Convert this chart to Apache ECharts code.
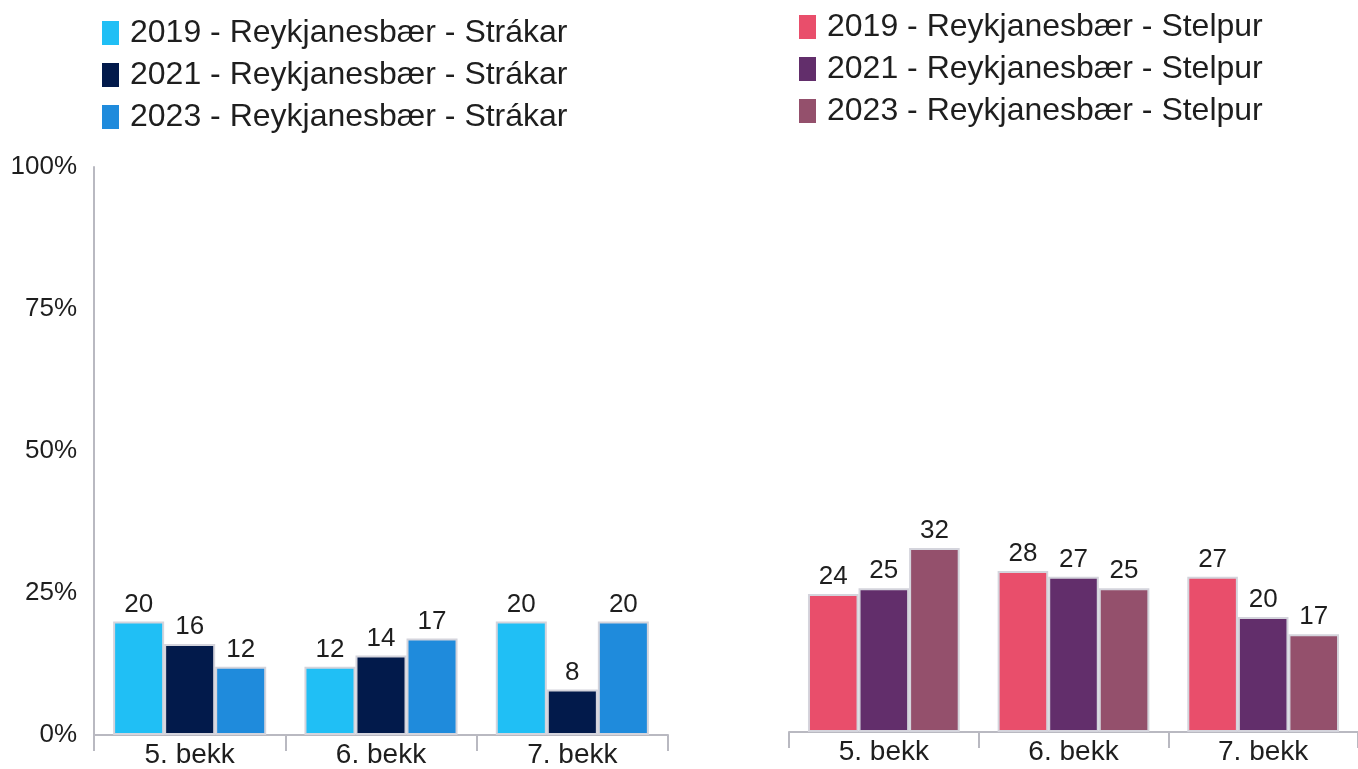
<!DOCTYPE html>
<html>
<head>
<meta charset="utf-8">
<script src="https://cdn.jsdelivr.net/npm/echarts@6/dist/echarts.min.js"></script>
<style>
html,body{margin:0;padding:0;background:#fff;}
#c{width:1358px;height:769px;}
</style>
</head>
<body>
<div id="c"></div>
<script>
const categories = ['5. bekk', '6. bekk', '7. bekk'];
const yTicks = ['0%', '25%', '50%', '75%', '100%'];
const boysNames = ['2019 - Reykjanesbær - Strákar', '2021 - Reykjanesbær - Strákar', '2023 - Reykjanesbær - Strákar'];
const girlsNames = ['2019 - Reykjanesbær - Stelpur', '2021 - Reykjanesbær - Stelpur', '2023 - Reykjanesbær - Stelpur'];
const boys2019 = [20, 12, 20];
const boys2021 = [16, 14, 8];
const boys2023 = [12, 17, 20];
const girls2019 = [24, 28, 27];
const girls2021 = [25, 27, 20];
const girls2023 = [32, 25, 17];
const boysColors = ['#20bff5', '#021a4b', '#1f8bdc'];
const girlsColors = ['#e94e6b', '#622e6b', '#94506c'];

const FONT = 'Liberation Sans, Arial, sans-serif';
const axisGray = '#b9b9c1';

function mkSeries(name, data, color, idx) {
  return {
    name: name, type: 'bar', data: data,
    xAxisIndex: idx, yAxisIndex: idx,
    barGap: '0%', barCategoryGap: '20%',
    itemStyle: { color: color, borderColor: '#d4d4dc', borderWidth: 2 },
    label: { show: true, position: 'top', distance: 4, color: '#1e1e1e', fontSize: 26, fontFamily: FONT },
    emphasis: { disabled: true }
  };
}

const legendText = { fontSize: 32, lineHeight: 36, color: '#1e1e1e', fontFamily: FONT, padding: [0, 0, 0, 6] };

const chart = echarts.init(document.getElementById('c'), null, { renderer: 'canvas' });
chart.setOption({
  animation: false,
  backgroundColor: '#ffffff',
  textStyle: { fontFamily: FONT },
  legend: [
    {
      data: boysNames, orient: 'vertical', left: 97, top: 10,
      itemWidth: 17, itemHeight: 24, itemGap: 6, icon: 'rect',
      itemStyle: { borderWidth: 0 },
      textStyle: legendText
    },
    {
      data: girlsNames, orient: 'vertical', left: 794, top: 4,
      itemWidth: 17, itemHeight: 24, itemGap: 6, icon: 'rect',
      itemStyle: { borderWidth: 0 },
      textStyle: legendText
    }
  ],
  grid: [
    { left: 94, top: 167, width: 574, bottom: 31 },
    { left: 789, top: 157, width: 569, bottom: 37 }
  ],
  xAxis: [0, 1].map(i => ({
    type: 'category', data: categories, gridIndex: i,
    axisLine: { show: true, lineStyle: { color: axisGray, width: 2 } },
    axisTick: { show: true, length: 16, lineStyle: { color: axisGray, width: 2 } },
    axisLabel: { color: '#1e1e1e', fontSize: 28, fontFamily: FONT, margin: 6 },
    splitLine: { show: false }
  })),
  yAxis: [
    {
      type: 'value', gridIndex: 0, min: 0, max: 100, interval: 25,
      axisLine: { show: true, lineStyle: { color: axisGray, width: 2 } },
      axisTick: { show: false },
      splitLine: { show: false },
      axisLabel: { color: '#1e1e1e', fontSize: 26, fontFamily: FONT, margin: 17,
        formatter: v => yTicks[Math.round(v / 25)] }
    },
    {
      type: 'value', gridIndex: 1, min: 0, max: 100, interval: 25,
      show: false, splitLine: { show: false }
    }
  ],
  series: [
    mkSeries(boysNames[0], boys2019, boysColors[0], 0),
    mkSeries(boysNames[1], boys2021, boysColors[1], 0),
    mkSeries(boysNames[2], boys2023, boysColors[2], 0),
    mkSeries(girlsNames[0], girls2019, girlsColors[0], 1),
    mkSeries(girlsNames[1], girls2021, girlsColors[1], 1),
    mkSeries(girlsNames[2], girls2023, girlsColors[2], 1)
  ]
});
</script>
</body>
</html>
